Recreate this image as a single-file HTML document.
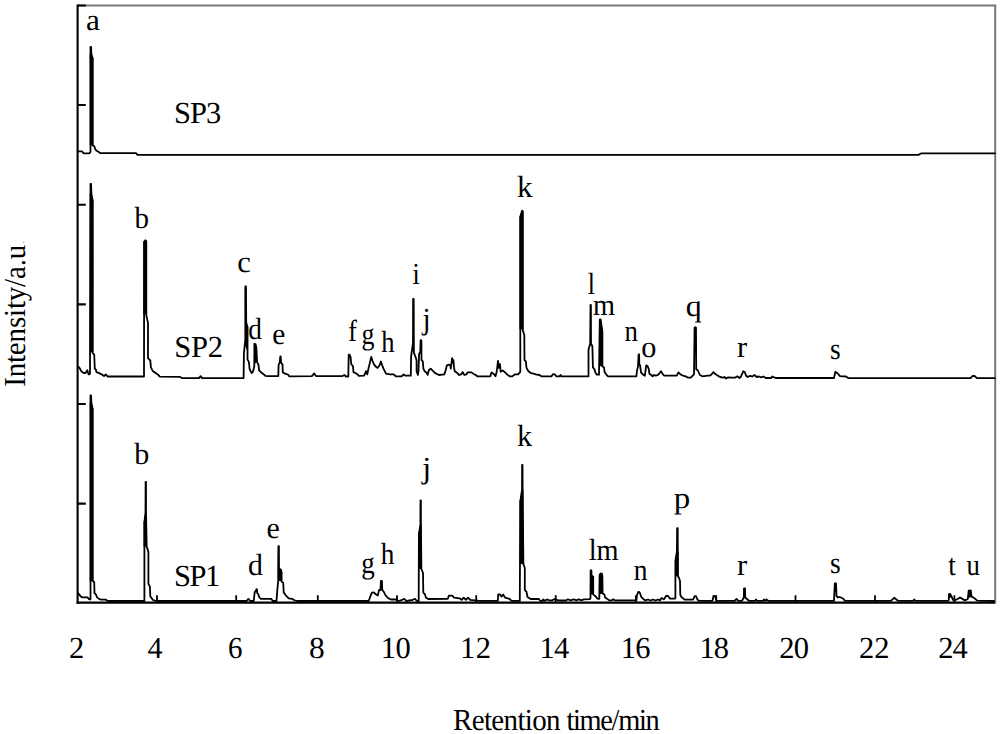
<!DOCTYPE html>
<html><head><meta charset="utf-8"><style>
html,body{margin:0;padding:0;background:#fff;width:1000px;height:734px;overflow:hidden;}
svg{display:block;}
text{font-family:"Liberation Serif",serif;font-size:30.5px;fill:#000;text-rendering:geometricPrecision;}
</style></head><body>
<svg width="1000" height="734" viewBox="0 0 1000 734">
<rect width="1000" height="734" fill="#fff"/>

<g fill="none" stroke-linecap="butt">
<path d="M78,5.5 H995.2 V603.5" stroke="#777" stroke-width="2"/>
<path d="M77.6,4.5 V603.8" stroke="#000" stroke-width="2.1"/>
<path d="M76.6,602.65 H995" stroke="#000" stroke-width="2.3"/>
<path d="M77.6,5.5 H85.8 M77.6,105.0 H85.8 M77.6,204.8 H85.8 M77.6,304.4 H85.8 M77.6,404.0 H85.8 M77.6,503.6 H85.8" stroke="#000" stroke-width="2.1"/>
<path d="M157.0,602 V595.2 M236.2,602 V595.2 M317.8,602 V595.2 M397.0,602 V595.2 M476.2,602 V595.2 M555.7,602 V595.2 M636.0,602 V595.2 M716.2,602 V595.2 M795.5,602 V595.2 M875.0,602 V595.2 M954.4,602 V595.2" stroke="#000" stroke-width="1.8"/>
</g>
<g fill="none" stroke="#000" stroke-width="1.8" stroke-linejoin="round" stroke-linecap="round">
<polyline transform="translate(0,0.3)" points="78.0,151.0 82.0,151.0 83.5,153.0 89.5,153.0 90.5,151.5 90.5,46.5 91.1,46.5 91.3,53.5 92.6,57.9 92.6,145.0 94.3,146.0 95.0,148.5 96.5,150.5 98.5,151.5 100.0,152.8 136.0,152.8 137.5,154.5 918.4,154.6 921.4,153.0 995.0,153.0"/>
<polyline transform="translate(0,0.3)" points="78.0,366.5 79.2,367.1 81.5,371.2 83.8,372.7 85.5,372.7 87.3,370.0 88.6,374.1 90.0,373.5 90.5,183.5 91.1,183.5 91.4,193.5 92.6,200.1 92.6,352.7 94.2,354.4 94.8,368.3 95.9,369.4 96.5,371.8 99.4,372.9 101.1,373.8 104.0,375.8 105.8,374.1 107.5,376.2 144.0,376.2 144.2,241.5 145.3,239.9 146.3,240.8 146.3,315.0 148.0,322.6 148.0,357.9 150.3,360.2 150.9,367.1 152.7,370.6 156.7,373.5 159.0,375.2 159.6,376.4 180.2,376.6 181.8,377.8 199.0,377.8 200.6,375.8 202.1,377.8 243.6,377.8 243.9,353.7 245.3,338.7 245.3,286.1 246.0,286.1 246.2,322.3 247.6,327.0 247.5,359.0 248.9,361.9 249.6,368.7 251.6,372.8 253.0,371.4 254.3,366.0 254.4,343.4 255.6,344.0 256.4,348.2 257.1,361.9 258.5,364.6 259.1,370.0 261.9,372.8 263.9,374.1 265.3,375.5 268.0,375.8 278.3,375.8 278.6,364.5 279.6,362.5 280.3,356.2 280.7,356.2 281.1,362.5 282.5,364.0 282.8,371.9 284.9,373.4 288.0,374.2 289.2,376.0 311.9,375.8 314.2,373.1 315.9,375.8 342.5,375.8 344.3,374.7 346.0,376.2 348.3,376.2 348.7,354.4 349.5,354.4 350.6,356.7 351.2,363.7 353.0,366.0 353.5,371.8 355.9,372.9 357.6,374.1 358.8,375.6 364.1,375.4 366.0,370.9 367.3,374.1 368.6,367.6 369.9,362.4 371.2,356.6 372.5,360.5 373.8,363.7 375.7,366.3 377.6,367.6 379.6,365.0 380.9,361.2 382.2,365.0 383.5,368.3 386.0,373.4 389.9,374.1 393.8,374.1 395.8,376.0 401.6,376.0 403.5,374.1 405.5,375.4 410.8,375.4 411.1,356.2 413.0,342.7 413.1,298.6 413.7,298.6 413.9,352.5 415.4,356.2 416.6,359.9 416.6,370.9 417.9,374.6 418.5,370.9 419.1,353.7 420.3,351.3 420.6,339.8 421.4,340.2 421.5,359.9 422.8,361.1 423.4,368.4 424.6,370.9 426.4,372.1 427.7,374.6 428.9,369.7 430.7,368.4 432.6,370.3 435.2,372.8 439.1,374.7 444.3,374.1 445.6,370.2 446.9,365.0 448.9,364.4 450.2,365.0 450.8,368.3 452.1,357.9 452.8,362.4 453.4,359.9 454.1,367.6 454.7,370.9 456.6,372.1 459.2,374.7 461.2,374.1 462.5,371.8 464.4,374.7 466.3,374.1 467.6,372.1 471.5,372.1 474.1,374.1 476.0,374.7 477.3,376.0 490.3,376.0 491.6,372.1 493.5,373.4 495.5,376.0 496.7,371.5 498.0,360.5 498.7,367.6 500.0,363.7 500.6,371.5 502.6,370.2 504.5,371.5 507.1,374.1 509.7,376.0 512.3,376.0 514.9,374.1 518.1,374.1 520.3,371.5 520.3,216.5 522.1,210.3 522.7,210.8 522.7,329.5 524.3,334.6 524.5,359.9 525.9,361.2 526.5,367.6 528.4,370.9 531.0,372.8 533.6,373.4 535.6,374.1 539.4,374.7 541.4,376.0 551.6,376.0 552.9,373.8 554.9,374.1 556.2,376.0 559.4,376.0 560.7,374.7 561.3,376.0 588.5,376.0 588.5,349.3 590.2,343.5 590.5,304.7 590.9,304.7 591.0,343.5 592.4,346.0 592.9,367.1 594.5,369.0 595.1,371.6 596.8,374.4 599.0,374.4 599.8,319.2 600.6,319.2 602.4,331.4 602.4,366.0 604.0,367.1 604.6,371.6 606.9,374.9 608.0,376.0 636.4,376.0 637.0,370.2 638.0,366.3 638.6,354.0 639.1,354.0 639.3,364.4 640.1,365.0 641.0,372.1 642.9,374.1 644.9,375.4 646.2,365.0 647.5,365.7 648.8,368.9 649.4,373.4 651.3,374.7 652.6,376.0 653.9,374.7 655.9,375.4 657.8,374.7 659.1,373.4 661.0,370.9 663.0,374.1 664.3,375.4 676.6,375.4 678.5,372.1 680.5,374.1 683.0,375.4 685.6,376.0 687.6,377.3 690.8,377.3 692.7,375.4 694.0,374.1 694.6,327.5 695.3,326.9 696.0,327.5 696.2,368.9 697.9,370.2 699.9,374.7 702.4,376.0 707.6,375.4 709.6,375.4 711.5,374.1 713.4,371.8 715.4,373.8 718.0,375.4 720.0,376.7 723.0,377.4 724.5,376.7 726.0,378.2 728.2,377.0 731.2,377.4 735.0,377.4 737.2,376.0 739.5,377.7 741.0,376.2 743.2,371.0 744.7,371.7 746.2,375.5 747.7,376.7 750.0,375.5 752.2,376.2 754.5,374.7 756.7,376.7 759.0,376.2 761.2,377.0 763.5,376.2 765.7,377.7 771.0,377.7 772.5,376.2 774.7,377.4 776.2,377.7 834.0,377.7 835.3,371.7 835.8,371.7 837.7,373.2 840.0,375.8 846.0,376.2 848.2,377.7 970.6,377.8 972.5,375.7 974.5,375.7 977.0,377.8 995.0,377.8"/>
<polyline transform="translate(0,0)" points="78.3,593.3 80.1,595.6 81.9,597.4 87.7,597.4 88.9,599.1 90.0,599.5 90.5,599.0 90.5,395.5 91.1,395.5 91.3,402.3 92.6,408.8 92.6,581.0 94.2,582.1 94.5,593.3 95.9,594.4 97.1,597.4 99.4,599.1 101.2,599.7 105.9,599.7 107.7,601.0 144.4,601.0 144.4,522.3 145.5,512.5 145.6,481.8 146.0,481.8 146.0,512.5 146.7,546.4 148.4,551.8 148.4,583.9 149.9,586.6 150.3,596.4 153.0,600.0 155.6,600.9 158.7,601.0 246.5,601.0 248.4,598.9 250.4,601.0 253.7,601.0 254.7,592.2 255.7,591.1 256.5,589.1 257.0,589.5 257.2,593.2 258.3,594.2 259.3,597.4 260.9,598.9 271.2,598.9 272.8,601.0 276.5,601.0 277.3,590.1 278.2,580.8 278.2,568.0 278.4,546.1 278.9,546.1 279.0,568.0 281.6,572.0 281.6,581.8 283.2,582.8 283.7,592.2 285.7,595.3 288.8,598.4 292.0,598.9 295.0,600.5 296.8,601.0 368.7,601.0 370.6,595.6 371.9,592.6 373.9,592.4 375.8,594.3 377.8,595.6 379.1,590.0 380.5,590.0 380.9,581.0 381.9,581.0 382.3,590.0 383.7,591.7 385.7,595.6 388.3,598.2 390.9,599.5 396.1,599.5 398.7,601.0 402.1,599.8 404.3,598.8 406.4,601.0 412.8,599.8 414.9,598.8 417.0,601.0 418.7,601.0 418.9,534.2 420.4,524.8 420.5,500.3 420.9,500.3 420.9,524.8 421.4,569.0 423.0,573.0 423.3,592.7 425.0,594.3 425.8,597.4 428.2,599.0 447.8,598.8 448.9,595.6 452.1,595.6 454.2,597.7 459.5,598.3 461.6,599.8 463.8,597.7 465.9,599.8 468.0,597.7 470.1,599.8 479.7,600.9 497.8,600.9 498.2,594.5 499.9,594.5 501.6,596.6 503.1,594.5 505.2,597.7 509.5,598.8 511.6,600.9 519.8,600.9 520.3,501.3 522.0,490.0 522.1,464.9 522.5,464.9 522.6,490.0 523.4,564.0 524.8,568.0 524.8,589.8 526.5,591.8 527.5,597.0 530.6,599.0 538.8,599.0 540.5,601.0 542.0,601.0 543.5,599.5 544.5,601.0 547.0,599.4 549.0,600.3 552.0,600.5 553.5,599.5 556.0,599.2 558.0,600.5 566.0,600.5 568.0,599.3 570.0,600.3 574.0,599.3 576.0,600.3 579.0,599.3 581.0,600.3 584.0,599.4 589.8,599.2 590.5,598.0 590.6,570.3 591.4,570.3 591.6,575.8 593.2,576.5 593.2,594.4 596.0,596.8 597.2,598.6 599.3,598.9 599.6,575.0 600.6,573.4 601.8,573.6 602.4,576.0 602.6,593.2 604.5,594.7 605.0,597.4 606.8,598.6 609.2,600.4 611.6,600.4 613.4,599.2 615.0,600.4 636.4,600.4 637.0,595.0 638.3,592.0 639.2,592.0 640.0,593.2 641.2,596.8 643.6,599.2 645.4,600.4 648.0,599.5 650.5,600.5 653.0,599.5 655.5,600.5 658.0,599.5 660.0,600.4 661.6,598.0 664.0,599.2 666.4,595.6 668.2,596.2 670.0,598.6 674.8,598.6 675.4,598.0 675.4,560.8 676.9,551.6 677.1,528.2 677.7,528.2 677.8,551.6 677.9,576.0 678.8,577.4 680.0,581.0 680.3,595.0 681.8,597.4 684.8,599.7 693.0,599.7 694.7,596.2 696.0,596.2 697.6,599.8 699.0,600.8 712.5,600.8 713.5,596.0 715.0,596.0 716.5,600.8 734.5,600.8 736.5,599.0 738.5,600.8 742.0,600.8 743.8,597.5 744.0,588.3 745.0,588.3 745.2,597.5 747.5,599.5 749.0,600.8 755.0,600.8 756.0,599.5 757.0,600.8 763.0,600.8 764.0,599.5 765.0,600.8 766.5,599.5 768.0,600.8 834.0,600.8 834.8,583.5 836.0,583.5 836.5,596.0 838.0,597.5 839.5,597.0 841.0,597.5 843.0,598.5 845.0,600.8 890.8,600.8 894.2,597.8 898.0,600.8 913.0,600.8 914.2,599.5 915.4,600.8 948.2,600.8 948.8,600.0 948.9,594.2 950.3,594.0 951.2,596.0 953.2,600.0 955.0,600.3 957.5,599.0 960.0,597.6 962.0,598.6 964.0,600.0 966.0,600.0 967.8,599.0 968.7,590.6 970.7,590.4 971.6,596.6 973.2,597.6 975.2,598.8 977.2,600.6 994.0,601.0"/>
</g>
<g fill="#000">
<polygon transform="translate(0,0.3)" points="89.7,53.5 91.3,53.5 93.4,57.9 93.4,145.0 89.7,145.0"/>
<polygon transform="translate(0,0.3)" points="89.7,193.5 91.4,193.5 93.4,200.1 93.4,352.0 89.7,352.0"/>
<polygon transform="translate(0,0.3)" points="519.5,217.0 521.9,210.5 523.5,211.0 523.5,329.0 519.5,329.0"/>
<polygon transform="translate(0,0.3)" points="143.3,241.0 146.6,241.0 146.6,314.0 143.3,314.0"/>
<polygon transform="translate(0,0.3)" points="245.0,322.0 247.8,327.0 247.8,352.0 245.0,345.0"/>
<polygon transform="translate(0,0.3)" points="254.0,344.0 256.3,345.0 256.9,361.0 254.0,365.0"/>
<polygon transform="translate(0,0.3)" points="599.2,320.0 600.9,319.5 602.7,331.0 602.7,366.0 599.2,366.0"/>
<polygon transform="translate(0,0)" points="278.0,568.0 281.8,569.0 281.8,581.0 278.0,581.0"/>
<polygon transform="translate(0,0)" points="143.6,522.3 145.4,512.5 146.6,512.5 146.6,546.4 143.6,546.4"/>
<polygon transform="translate(0,0)" points="418.3,534.0 420.3,524.0 421.6,524.0 421.6,569.0 418.3,569.0"/>
<polygon transform="translate(0,0)" points="519.6,501.0 521.9,490.0 523.4,490.0 523.6,564.0 519.6,564.0"/>
<polygon transform="translate(0,0)" points="590.0,575.8 593.6,576.3 593.6,594.4 590.0,594.4"/>
<polygon transform="translate(0,0)" points="599.2,576.0 600.5,573.0 602.7,573.5 602.9,594.0 599.2,594.0"/>
<polygon transform="translate(0,0)" points="675.0,560.4 677.0,551.6 678.6,551.6 678.6,576.3 675.0,576.3"/>
<polygon transform="translate(0,0)" points="948.1,594.4 950.9,594.2 951.3,597.0 948.1,599.0"/>
<polygon transform="translate(0,0)" points="968.0,591.0 971.3,590.8 971.6,597.0 968.0,598.0"/>
<polygon transform="translate(0,0)" points="89.7,402.0 91.3,402.3 93.4,408.8 93.4,581.0 89.7,581.0"/>
</g>
<text transform="translate(85.88,30.45) scale(1.025,1)">a</text>
<text x="174.00" y="122.75" style="letter-spacing:-1.00px">SP3</text>
<text transform="translate(134.60,227.85) scale(0.950,1)">b</text>
<text transform="translate(237.20,272.00) scale(1.000,1)">c</text>
<text transform="translate(248.31,338.75) scale(0.893,1)">d</text>
<text transform="translate(272.13,343.75) scale(0.967,1)">e</text>
<text transform="translate(348.32,340.90) scale(0.850,1)">f</text>
<text transform="translate(361.55,344.20) scale(0.850,1)">g</text>
<text transform="translate(381.13,351.55) scale(0.871,1)">h</text>
<text transform="translate(412.43,284.30) scale(0.850,1)">i</text>
<text transform="translate(422.46,328.60) scale(0.957,1)">j</text>
<text transform="translate(517.08,196.60) scale(1.021,1)">k</text>
<text transform="translate(587.67,294.05) scale(0.850,1)">l</text>
<text transform="translate(593.07,314.60) scale(0.927,1)">m</text>
<text transform="translate(624.52,340.70) scale(0.879,1)">n</text>
<text transform="translate(641.31,356.80) scale(0.992,1)">o</text>
<text transform="translate(685.85,316.30) scale(1.046,1)">q</text>
<text transform="translate(737.00,356.60) scale(1.000,1)">r</text>
<text transform="translate(830.10,359.40) scale(0.900,1)">s</text>
<text x="174.30" y="356.80" style="letter-spacing:-0.25px">SP2</text>
<text transform="translate(134.30,464.05) scale(0.986,1)">b</text>
<text x="173.90" y="586.00" style="letter-spacing:-1.45px">SP1</text>
<text transform="translate(248.12,574.85) scale(0.979,1)">d</text>
<text transform="translate(266.42,537.95) scale(0.983,1)">e</text>
<text transform="translate(361.21,573.35) scale(0.886,1)">g</text>
<text transform="translate(380.81,563.95) scale(0.893,1)">h</text>
<text transform="translate(422.36,477.75) scale(1.057,1)">j</text>
<text transform="translate(516.91,446.30) scale(0.993,1)">k</text>
<text transform="translate(588.67,560.20) scale(0.929,1)">lm</text>
<text transform="translate(633.70,580.40) scale(0.900,1)">n</text>
<text transform="translate(673.85,507.80) scale(1.080,1)">p</text>
<text transform="translate(737.00,574.50) scale(1.000,1)">r</text>
<text transform="translate(830.10,573.25) scale(0.900,1)">s</text>
<text transform="translate(948.20,574.60) scale(0.900,1)">t</text>
<text transform="translate(966.40,575.00) scale(0.880,1)">u</text>
<text transform="translate(69.00,657.55) scale(1.000,1)">2</text>
<text transform="translate(147.61,657.55) scale(0.986,1)">4</text>
<text transform="translate(228.00,657.55) scale(0.950,1)">6</text>
<text transform="translate(308.97,657.55) scale(1.031,1)">8</text>
<text x="380.80" y="657.55" style="letter-spacing:-0.60px">10</text>
<text x="460.10" y="657.55" style="letter-spacing:0.40px">12</text>
<text x="539.40" y="657.55" style="letter-spacing:-0.60px">14</text>
<text x="620.70" y="657.55" style="letter-spacing:-0.80px">16</text>
<text x="699.40" y="657.55" style="letter-spacing:-0.80px">18</text>
<text x="779.15" y="657.55" style="letter-spacing:-0.70px">20</text>
<text x="859.00" y="657.55" style="letter-spacing:0.00px">22</text>
<text x="938.20" y="657.55" style="letter-spacing:-1.00px">24</text>
<text transform="translate(453.05,729.7) scale(0.95,1)" style="letter-spacing:-0.68px">Retention</text>
<text transform="translate(566.5,729.7) scale(0.93,1)" style="letter-spacing:-1.43px">time/min</text>
<text transform="translate(25.2,386.85) rotate(-90) scale(0.95,1)" style="letter-spacing:-0.17px">Intensity/a.u</text>
<circle cx="23.6" cy="242.5" r="0.8" fill="#aaa"/>
</svg></body></html>
